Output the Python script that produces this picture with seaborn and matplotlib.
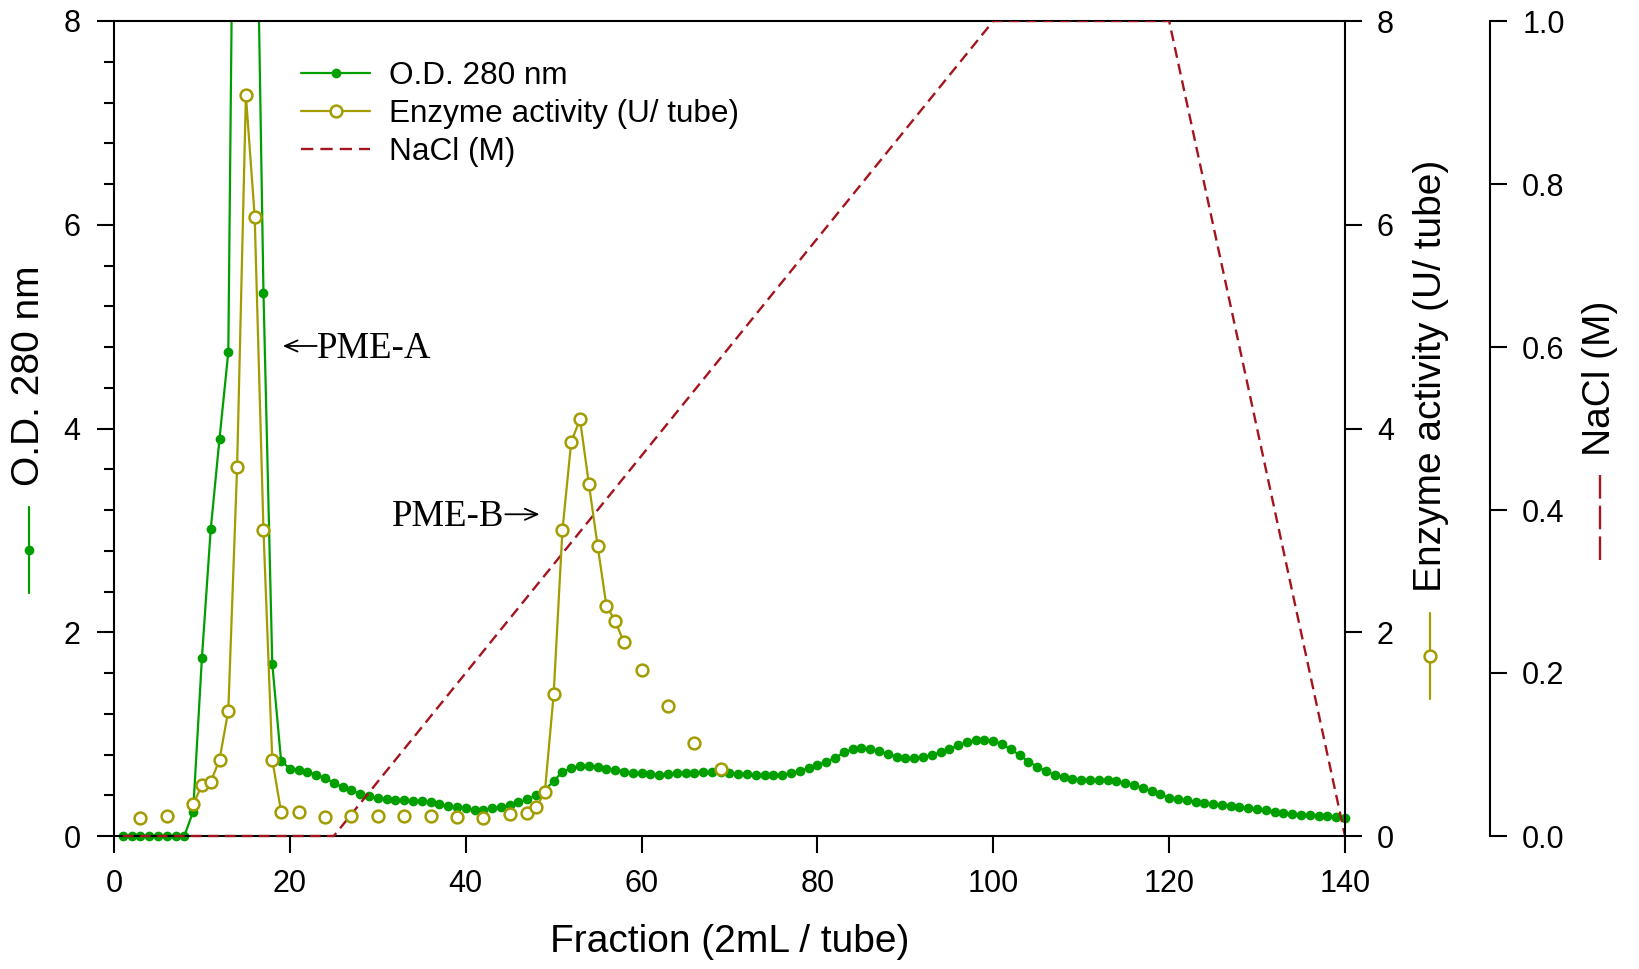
import numpy as np
import pandas as pd
import matplotlib
matplotlib.use("Agg")
import matplotlib.pyplot as plt
from matplotlib.lines import Line2D
from matplotlib.ticker import MultipleLocator, FormatStrFormatter
from matplotlib.transforms import Bbox, TransformedBbox
import seaborn as sns

# ---- data -------------------------------------------------------------
od_fraction = list(range(1, 141))
od_280 = [
    0.0, 0.0, 0.0, 0.0, 0.0, 0.0, 0.0, 0.0,                  # 1-8
    0.24, 1.75, 3.01, 3.90, 4.75, 13.5, 16.0, 10.6, 5.33,    # 9-17
    1.69, 0.74,                                              # 18-19
    0.66, 0.65, 0.63, 0.60, 0.57, 0.52, 0.48, 0.45, 0.41, 0.39,        # 20-29
    0.37, 0.36, 0.35, 0.35, 0.345, 0.34, 0.33, 0.31, 0.29, 0.28,       # 30-39
    0.27, 0.26, 0.26, 0.27, 0.285, 0.30, 0.33, 0.36, 0.40, 0.45,       # 40-49
    0.54, 0.63, 0.665, 0.69, 0.69, 0.68, 0.66, 0.65, 0.63, 0.62,       # 50-59
    0.615, 0.61, 0.60, 0.61, 0.615, 0.62, 0.62, 0.625, 0.625, 0.63,    # 60-69
    0.615, 0.61, 0.605, 0.60, 0.60, 0.60, 0.60, 0.62, 0.64, 0.665,     # 70-79
    0.70, 0.73, 0.765, 0.82, 0.85, 0.86, 0.85, 0.83, 0.805, 0.78,      # 80-89
    0.77, 0.765, 0.775, 0.795, 0.82, 0.85, 0.89, 0.92, 0.94, 0.945,    # 90-99
    0.935, 0.90, 0.85, 0.795, 0.73, 0.68, 0.635, 0.60, 0.575, 0.56,    # 100-109
    0.55, 0.55, 0.55, 0.545, 0.535, 0.52, 0.50, 0.47, 0.44, 0.41,      # 110-119
    0.375, 0.36, 0.35, 0.335, 0.32, 0.31, 0.30, 0.29, 0.28, 0.27,      # 120-129
    0.265, 0.255, 0.24, 0.23, 0.22, 0.21, 0.205, 0.20, 0.195, 0.19,    # 130-139
    0.18,                                                              # 140
]

enzyme_fraction = [3, 6, 9, 10, 11, 12, 13, 14, 15, 16, 17, 18, 19, 21, 24, 27,
                   30, 33, 36, 39, 42, 45, 47, 48, 49, 50, 51, 52, 53, 54, 55,
                   56, 57, 58, 60, 63, 66, 69]
enzyme_activity = [0.18, 0.20, 0.31, 0.50, 0.53, 0.75, 1.23, 3.62, 7.27, 6.08,
                   3.00, 0.75, 0.24, 0.24, 0.19, 0.20, 0.20, 0.20, 0.20, 0.19,
                   0.18, 0.22, 0.23, 0.28, 0.43, 1.39, 3.00, 3.87, 4.09, 3.46,
                   2.85, 2.26, 2.11, 1.90, 1.63, 1.28, 0.91, 0.655]

nacl_fraction = [1, 25, 100, 120, 140]
nacl_molar = [0.0, 0.0, 1.0, 1.0, 0.0]

x_ticks = [0, 20, 40, 60, 80, 100, 120, 140]
od_ticks = [0, 2, 4, 6, 8]
enzyme_ticks = [0, 2, 4, 6, 8]
nacl_ticks = [0.0, 0.2, 0.4, 0.6, 0.8, 1.0]

GREEN = "#009f00"
OLIVE = "#a39c00"
RED = "#a3141c"
NACL_DASH = (4.6, 2.6)
NACL_LW = 1.7
OD_MS = 7.0

od_df = pd.DataFrame({"fraction": od_fraction, "od": od_280})
enz_df = pd.DataFrame({"fraction": enzyme_fraction, "activity": enzyme_activity})
# tubes assayed one after another are joined; isolated tubes stand alone
enz_df["run"] = (enz_df["fraction"].diff() != 1).cumsum()
nacl_df = pd.DataFrame({"fraction": nacl_fraction, "nacl": nacl_molar})

# ---- style ------------------------------------------------------------
sns.set_theme(style="ticks")
plt.rcParams["font.family"] = ["Liberation Sans", "DejaVu Sans"]
plt.rcParams.update({
    "axes.edgecolor": "black",
    "axes.linewidth": 1.5,
    "xtick.color": "black",
    "ytick.color": "black",
    "text.color": "black",
    "axes.labelcolor": "black",
})

W, H = 1640, 969
fig = plt.figure(figsize=(W / 100, H / 100), dpi=100)
x0, x1, y_top, y_bot = 114, 1345, 21, 836
ax = fig.add_axes([x0 / W, 1 - y_bot / H, (x1 - x0) / W, (y_bot - y_top) / H])
ax_nacl = ax.twinx()
ax_enz = ax.twinx()
ax.set_zorder(1)
ax_nacl.set_zorder(2)
ax_enz.set_zorder(3)
ax.patch.set_visible(False)

# ---- series -----------------------------------------------------------
sns.lineplot(data=od_df, x="fraction", y="od", ax=ax, color=GREEN,
             estimator=None, sort=False, lw=1.6, marker="o", markersize=OD_MS,
             markeredgewidth=0)
sns.lineplot(data=nacl_df, x="fraction", y="nacl", ax=ax_nacl, color=RED,
             estimator=None, sort=False, lw=NACL_LW, dashes=False)
for ln in ax_nacl.lines:
    ln.set_dashes(NACL_DASH)
sns.lineplot(data=enz_df, x="fraction", y="activity", units="run",
             estimator=None, ax=ax_enz, color=OLIVE, lw=1.6, marker="o",
             markersize=8.5, markerfacecolor="white", markeredgecolor=OLIVE,
             markeredgewidth=1.8)

# let markers sitting on the frame show whole, while tall peaks are cut at the top
for a in (ax, ax_nacl, ax_enz):
    clip = TransformedBbox(Bbox([[-0.01, -0.02], [1.01, 1.0]]), a.transAxes)
    for ln in a.lines:
        ln.set_clip_box(clip)

# ---- axes -------------------------------------------------------------
ax.set_xlim(0, 140)
ax.set_ylim(0, 8)
ax_enz.set_ylim(0, 8)
ax_nacl.set_ylim(0, 1.0)

ax.set_xticks(x_ticks)
ax.set_yticks(od_ticks)
ax.xaxis.set_minor_locator(MultipleLocator(4))
ax.yaxis.set_minor_locator(MultipleLocator(0.4))
ax_enz.set_yticks(enzyme_ticks)
ax_nacl.set_yticks(nacl_ticks)
ax_nacl.yaxis.set_major_formatter(FormatStrFormatter("%.1f"))

ax.tick_params(axis="both", which="major", direction="out", length=12,
               width=1.5, labelsize=22)
ax.tick_params(axis="both", which="minor", direction="out", length=7,
               width=1.5)
ax.tick_params(axis="y", which="major", pad=12)
ax.tick_params(axis="x", which="major", pad=12)
for a in (ax_enz, ax_nacl):
    a.tick_params(axis="y", which="major", direction="out", length=12,
                  width=1.5, labelsize=22, pad=11)
    a.minorticks_off()

for s in ("left", "top", "bottom"):
    ax_enz.spines[s].set_visible(False)
    ax_nacl.spines[s].set_visible(False)
ax.spines["right"].set_visible(False)
ax_nacl.spines["right"].set_position(("axes", 1.118))
for a in (ax, ax_enz, ax_nacl):
    for s in a.spines.values():
        s.set_linewidth(1.5)
        s.set_color("black")

ax.set_xlabel("Fraction (2mL / tube)", fontsize=28, labelpad=18)
ax.set_ylabel("")
ax_enz.set_ylabel("")
ax_nacl.set_ylabel("")

# axis titles, each with its own line key underneath
ax.text(-0.069, 0.565, "O.D. 280 nm", transform=ax.transAxes, rotation=90,
        ha="center", va="center", fontsize=28)
ax.add_line(Line2D([-0.069, -0.069], [0.298, 0.404], transform=ax.transAxes,
                   color=GREEN, lw=1.6, clip_on=False))
ax.add_line(Line2D([-0.069], [0.351], transform=ax.transAxes, color=GREEN,
                   marker="o", ms=OD_MS, mew=0, clip_on=False))

ax_enz.text(1.0699, 0.564, "Enzyme activity (U/ tube)", transform=ax.transAxes,
            rotation=90, ha="center", va="center", fontsize=28)
ax_enz.add_line(Line2D([1.069, 1.069], [0.168, 0.274], transform=ax.transAxes,
                       color=OLIVE, lw=1.6, clip_on=False))
ax_enz.add_line(Line2D([1.069], [0.221], transform=ax.transAxes, color=OLIVE,
                       marker="o", ms=8.5, mfc="white", mec=OLIVE, mew=1.8,
                       clip_on=False))

ax_nacl.text(1.2072, 0.561, "NaCl (M)", transform=ax.transAxes, rotation=90,
             ha="center", va="center", fontsize=28)
ax_nacl.add_line(Line2D([1.2072, 1.2072], [0.339, 0.445], transform=ax.transAxes,
                        color=RED, lw=NACL_LW, dashes=(10, 3), clip_on=False))

# peak annotations: serif label plus a thin pointing arrow
serif = ["Liberation Serif", "DejaVu Serif"]
arrow = dict(arrowstyle="->,head_length=0.45,head_width=0.2", lw=1.3,
             color="black", shrinkA=0, shrinkB=0, mutation_scale=20)
ax.text(23.1, 4.69, "PME-A", ha="left", va="baseline", fontsize=26.5,
        family=serif)
ax.annotate("", xy=(19.2, 4.81), xytext=(23.05, 4.81), arrowprops=arrow)
ax.text(44.45, 3.043, "PME-B", ha="right", va="baseline", fontsize=26.5,
        family=serif)
ax.annotate("", xy=(48.4, 3.158), xytext=(44.5, 3.158), arrowprops=arrow)

# legend
handles = [
    Line2D([], [], color=GREEN, lw=1.6, marker="o", ms=OD_MS, mew=0),
    Line2D([], [], color=OLIVE, lw=1.6, marker="o", ms=8.5, mfc="white",
           mec=OLIVE, mew=1.8),
    Line2D([], [], color=RED, lw=NACL_LW, dashes=(5.2, 3.0)),
]
labels = ["O.D. 280 nm", "Enzyme activity (U/ tube)", "NaCl (M)"]
ax_enz.legend(handles, labels, loc="upper left", bbox_to_anchor=(0.152, 0.951),
              frameon=False, fontsize=22.7, handlelength=2.2,
              handletextpad=0.6, labelspacing=0.25, borderpad=0,
              borderaxespad=0)

fig.savefig("out.png", dpi=100)
